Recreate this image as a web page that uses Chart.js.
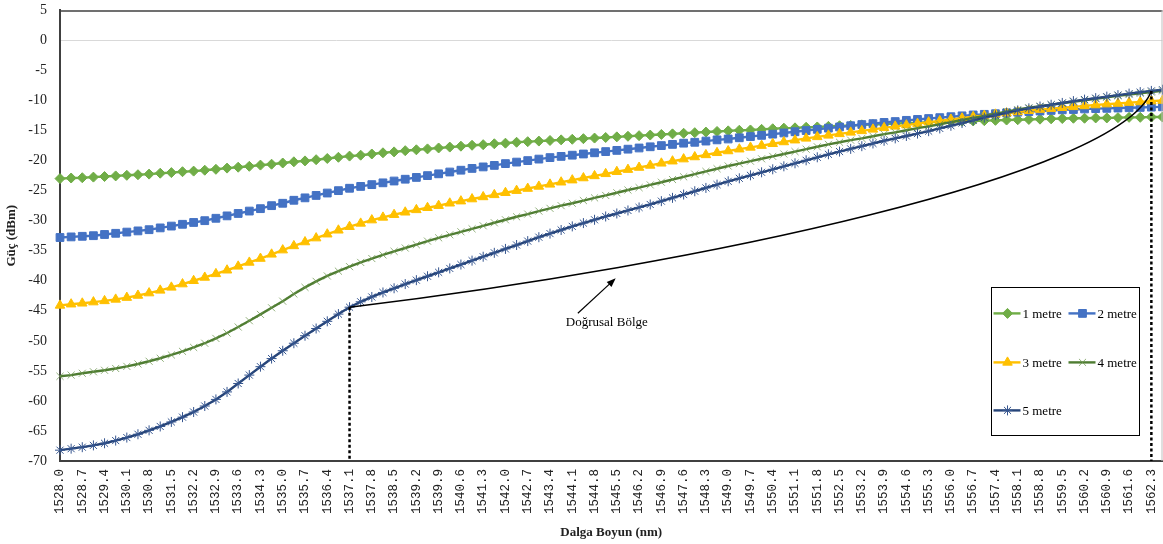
<!DOCTYPE html>
<html>
<head>
<meta charset="utf-8">
<script src="https://cdn.jsdelivr.net/npm/chart.js@4.4.1/dist/chart.umd.min.js"></script>
<style>
  html, body { margin: 0; padding: 0; background: #fff; overflow: hidden; }
  #wrap { position: relative; width: 1163px; height: 544px; overflow: hidden; }
  #myChart { position: absolute; left: 0; top: -11px; }
</style>
</head>
<body>
<div id="wrap"><canvas id="myChart" width="1169" height="555"></canvas></div>
<script>
// wavelength tick labels (every second sample is labelled)
var tickLabels = ['1528.0', '1528.7', '1529.4', '1530.1', '1530.8', '1531.5', '1532.2', '1532.9', '1533.6', '1534.3',
    '1535.0', '1535.7', '1536.4', '1537.1', '1537.8', '1538.5', '1539.2', '1539.9', '1540.6', '1541.3',
    '1542.0', '1542.7', '1543.4', '1544.1', '1544.8', '1545.5', '1546.2', '1546.9', '1547.6', '1548.3',
    '1549.0', '1549.7', '1550.4', '1551.1', '1551.8', '1552.5', '1553.2', '1553.9', '1554.6', '1555.3',
    '1556.0', '1556.7', '1557.4', '1558.1', '1558.8', '1559.5', '1560.2', '1560.9', '1561.6', '1562.3'];

var seriesNames = ['1 metre', '2 metre', '3 metre', '4 metre', '5 metre'];

var metre1 = [-23.0, -22.9, -22.85, -22.75, -22.65, -22.55, -22.45, -22.35, -22.25, -22.1,
    -22.0, -21.85, -21.75, -21.6, -21.45, -21.25, -21.1, -20.95, -20.75, -20.6,
    -20.4, -20.2, -20.05, -19.85, -19.65, -19.45, -19.25, -19.1, -18.9, -18.7,
    -18.55, -18.35, -18.2, -18.05, -17.9, -17.75, -17.6, -17.45, -17.35, -17.2,
    -17.1, -16.95, -16.85, -16.75, -16.65, -16.55, -16.45, -16.35, -16.25, -16.15,
    -16.05, -15.95, -15.85, -15.75, -15.65, -15.55, -15.45, -15.35, -15.25, -15.15,
    -15.05, -14.95, -14.9, -14.8, -14.7, -14.6, -14.55, -14.45, -14.4, -14.3,
    -14.2, -14.15, -14.05, -14.0, -13.9, -13.85, -13.75, -13.7, -13.6, -13.55,
    -13.5, -13.45, -13.4, -13.35, -13.3, -13.25, -13.2, -13.15, -13.1, -13.05,
    -13.0, -12.95, -12.95, -12.9, -12.9, -12.85, -12.8, -12.8, -12.75, -12.75];

var metre2 = [-32.8, -32.7, -32.6, -32.5, -32.3, -32.1, -31.9, -31.7, -31.5, -31.2,
    -30.9, -30.6, -30.3, -30.0, -29.6, -29.2, -28.8, -28.4, -28.0, -27.5,
    -27.1, -26.6, -26.2, -25.8, -25.4, -25.0, -24.6, -24.3, -24.0, -23.7,
    -23.4, -23.1, -22.8, -22.5, -22.2, -21.9, -21.6, -21.3, -21.05, -20.8,
    -20.5, -20.25, -20.0, -19.75, -19.5, -19.3, -19.1, -18.9, -18.7, -18.5,
    -18.3, -18.1, -17.9, -17.7, -17.5, -17.3, -17.1, -16.95, -16.75, -16.55,
    -16.4, -16.2, -16.0, -15.8, -15.6, -15.4, -15.2, -15.0, -14.8, -14.6,
    -14.4, -14.2, -14.0, -13.85, -13.65, -13.5, -13.3, -13.15, -13.0, -12.85,
    -12.7, -12.55, -12.4, -12.3, -12.2, -12.05, -11.95, -11.85, -11.75, -11.65,
    -11.55, -11.5, -11.4, -11.35, -11.3, -11.25, -11.2, -11.15, -11.1, -11.05];

var metre3 = [-44.1, -43.9, -43.75, -43.55, -43.35, -43.1, -42.8, -42.45, -42.05, -41.6,
    -41.1, -40.55, -40.0, -39.45, -38.85, -38.25, -37.6, -36.95, -36.3, -35.6,
    -34.9, -34.2, -33.55, -32.9, -32.25, -31.6, -31.0, -30.45, -29.9, -29.45,
    -29.0, -28.6, -28.2, -27.85, -27.5, -27.1, -26.75, -26.4, -26.05, -25.7,
    -25.35, -25.0, -24.65, -24.3, -23.95, -23.6, -23.25, -22.9, -22.55, -22.2,
    -21.85, -21.5, -21.15, -20.8, -20.45, -20.1, -19.75, -19.4, -19.05, -18.7,
    -18.4, -18.1, -17.8, -17.5, -17.2, -16.9, -16.6, -16.3, -16.05, -15.8,
    -15.55, -15.3, -15.05, -14.8, -14.55, -14.3, -14.1, -13.85, -13.6, -13.4,
    -13.15, -12.95, -12.7, -12.5, -12.3, -12.1, -11.9, -11.7, -11.5, -11.35,
    -11.2, -11.05, -10.9, -10.75, -10.6, -10.5, -10.35, -10.25, -10.1, -10.0];

var metre4 = [-55.9, -55.7, -55.4, -55.15, -54.9, -54.6, -54.25, -53.85, -53.4, -52.9,
    -52.35, -51.75, -51.1, -50.4, -49.6, -48.7, -47.7, -46.65, -45.6, -44.5,
    -43.4, -42.2, -41.1, -40.1, -39.2, -38.4, -37.65, -36.95, -36.3, -35.7,
    -35.1, -34.55, -34.0, -33.4, -32.85, -32.35, -31.85, -31.35, -30.85, -30.35,
    -29.85, -29.35, -28.9, -28.4, -27.95, -27.5, -27.1, -26.65, -26.2, -25.8,
    -25.35, -24.9, -24.5, -24.05, -23.6, -23.15, -22.7, -22.25, -21.8, -21.35,
    -20.9, -20.5, -20.1, -19.7, -19.3, -18.9, -18.5, -18.1, -17.7, -17.3,
    -16.95, -16.6, -16.3, -15.95, -15.6, -15.3, -14.95, -14.6, -14.3, -13.95,
    -13.6, -13.25, -12.9, -12.55, -12.2, -11.85, -11.5, -11.2, -10.95, -10.7,
    -10.45, -10.2, -9.95, -9.7, -9.45, -9.2, -9.0, -8.8, -8.6, -8.4];

var metre5 = [-68.2, -67.95, -67.7, -67.4, -67.05, -66.6, -66.1, -65.55, -64.9, -64.25,
    -63.5, -62.7, -61.85, -60.85, -59.75, -58.5, -57.1, -55.7, -54.3, -52.95,
    -51.65, -50.4, -49.15, -47.95, -46.75, -45.55, -44.4, -43.5, -42.7, -41.95,
    -41.25, -40.55, -39.9, -39.25, -38.6, -37.95, -37.3, -36.65, -36.0, -35.35,
    -34.7, -34.05, -33.4, -32.75, -32.15, -31.55, -30.95, -30.4, -29.85, -29.3,
    -28.8, -28.3, -27.8, -27.3, -26.75, -26.2, -25.65, -25.1, -24.55, -24.0,
    -23.45, -22.95, -22.45, -21.95, -21.45, -20.95, -20.45, -19.95, -19.45, -18.95,
    -18.5, -18.05, -17.6, -17.15, -16.7, -16.3, -15.9, -15.5, -15.1, -14.65,
    -14.2, -13.75, -13.3, -12.85, -12.45, -12.05, -11.65, -11.3, -11.0, -10.7,
    -10.4, -10.1, -9.85, -9.6, -9.35, -9.1, -8.85, -8.6, -8.4, -8.2];

// linear region markers: sample indices (1537.1 and 1562.3) on the 5 metre curve
var regionStart = 26;
var regionEnd = 98;
var regionLabel = 'Doğrusal Bölge';

// every second category carries a label
var categories = [];
tickLabels.forEach(function (t) { categories.push(t); categories.push(''); });

var styles = [
    { line: '#70AD47', fill: '#70AD47', edge: '#70AD47', shape: 'rectRot', r: 5 },
    { line: '#4472C4', fill: '#4472C4', edge: '#4472C4', shape: 'rect', r: 5.5 },
    { line: '#FFC000', fill: '#FFC000', edge: '#FFC000', shape: 'triangle', r: 5.5 },
    { line: '#4F7D32', fill: 'rgba(0,0,0,0)', edge: 'rgba(110,150,80,0.75)', shape: 'crossRot', r: 5 },
    { line: '#264478', fill: 'rgba(0,0,0,0)', edge: '#35558f', shape: 'star', r: 5 }
];
var values = [metre1, metre2, metre3, metre4, metre5];

var datasets = values.map(function (v, i) {
    var s = styles[i];
    return {
        label: seriesNames[i],
        data: v,
        borderColor: s.line,
        backgroundColor: s.fill,
        borderWidth: 2.4,
        pointStyle: s.shape,
        pointRadius: s.r,
        pointBackgroundColor: s.fill,
        pointBorderColor: s.edge,
        pointBorderWidth: 1,
        tension: 0,
        order: 4 - i
    };
});

var serif = 'Liberation Serif';

// box around plot + custom legend + annotations
var frame = {
    id: 'frame',
    afterDatasetsDraw: function (chart) {
        var ctx = chart.ctx, a = chart.chartArea, x = chart.scales.x, y = chart.scales.y;
        ctx.save();
        ctx.lineWidth = 1.5;
        ctx.strokeStyle = '#404040';
        ctx.beginPath(); ctx.moveTo(a.left, a.top + 0.5); ctx.lineTo(a.right, a.top + 0.5); ctx.stroke();
        ctx.strokeStyle = '#bfbfbf';
        ctx.lineWidth = 1;
        ctx.beginPath(); ctx.moveTo(a.right - 0.5, a.top); ctx.lineTo(a.right - 0.5, a.bottom); ctx.stroke();

        // dashed verticals
        var x0 = x.getPixelForValue(regionStart), y0 = y.getPixelForValue(metre5[regionStart]);
        var x1 = x.getPixelForValue(regionEnd), y1 = y.getPixelForValue(metre5[regionEnd]);
        ctx.strokeStyle = '#000';
        ctx.lineWidth = 2.5;
        ctx.setLineDash([3, 2.5]);
        ctx.beginPath(); ctx.moveTo(x0, y0); ctx.lineTo(x0, a.bottom); ctx.stroke();
        ctx.beginPath(); ctx.moveTo(x1, y1); ctx.lineTo(x1, a.bottom); ctx.stroke();
        ctx.setLineDash([]);

        // bracket curve
        ctx.lineWidth = 1.5;
        ctx.beginPath();
        ctx.moveTo(x0, y0);
        ctx.bezierCurveTo(x.getPixelForValue(57.5), y.getPixelForValue(-37.4),
            x.getPixelForValue(95.2), y.getPixelForValue(-22.4), x1, y1);
        ctx.stroke();

        // arrow
        var ax = x.getPixelForValue(46.5), ay = y.getPixelForValue(-45.4);
        var bx = x.getPixelForValue(49.9), by = y.getPixelForValue(-39.6);
        var ang = Math.atan2(by - ay, bx - ax);
        ctx.lineWidth = 1.2;
        ctx.beginPath(); ctx.moveTo(ax, ay); ctx.lineTo(bx - 6 * Math.cos(ang), by - 6 * Math.sin(ang)); ctx.stroke();
        ctx.fillStyle = '#000';
        ctx.beginPath();
        ctx.moveTo(bx, by);
        ctx.lineTo(bx - 9 * Math.cos(ang) + 3.5 * Math.sin(ang), by - 9 * Math.sin(ang) - 3.5 * Math.cos(ang));
        ctx.lineTo(bx - 9 * Math.cos(ang) - 3.5 * Math.sin(ang), by - 9 * Math.sin(ang) + 3.5 * Math.cos(ang));
        ctx.closePath(); ctx.fill();

        ctx.font = '13px "' + serif + '"';
        ctx.textAlign = 'center';
        ctx.textBaseline = 'middle';
        ctx.fillText(regionLabel, x.getPixelForValue(49.1), y.getPixelForValue(-46.9));
        ctx.restore();
    },
    afterDraw: function (chart) {
        var ctx = chart.ctx, a = chart.chartArea;
        var bx = a.right - 172, by = a.top + 277;
        ctx.save();
        ctx.fillStyle = '#fff';
        ctx.fillRect(bx, by, 148, 148);
        ctx.strokeStyle = '#000';
        ctx.lineWidth = 1;
        ctx.strokeRect(Math.round(bx) + 0.5, Math.round(by) + 0.5, 148, 148);
        var slots = [[3, 26], [78, 26], [3, 75], [78, 75], [3, 123]];
        chart.data.datasets.forEach(function (ds, i) {
            var sx = bx + slots[i][0], sy = by + slots[i][1];
            ctx.strokeStyle = ds.borderColor;
            ctx.lineWidth = 2.4;
            ctx.beginPath(); ctx.moveTo(sx, sy); ctx.lineTo(sx + 27, sy); ctx.stroke();
            ctx.fillStyle = ds.pointBackgroundColor;
            ctx.strokeStyle = ds.pointBorderColor;
            ctx.lineWidth = 1;
            if (Chart.helpers && Chart.helpers.drawPoint) {
                Chart.helpers.drawPoint(ctx, { pointStyle: ds.pointStyle, radius: ds.pointRadius, rotation: 0, borderWidth: 1 }, sx + 14, sy);
            }
            ctx.fillStyle = '#000';
            ctx.font = '13px "' + serif + '"';
            ctx.textAlign = 'left';
            ctx.textBaseline = 'middle';
            ctx.fillText(ds.label, sx + 29, sy + 1);
        });
        ctx.restore();
    }
};

var ctx = document.getElementById('myChart').getContext('2d');
var chart = new Chart(ctx, {
    type: 'line',
    data: { labels: categories, datasets: datasets },
    options: {
        responsive: false,
        animation: false,
        devicePixelRatio: 1,
        layout: { padding: { top: 10, right: 1, left: 0, bottom: 0 } },
        plugins: { legend: { display: false }, tooltip: { enabled: false } },
        scales: {
            x: {
                offset: false,
                grid: { display: false, drawTicks: false },
                border: { display: true, color: '#404040', width: 2 },
                ticks: {
                    autoSkip: false, maxRotation: 90, minRotation: 90, padding: 8,
                    color: '#222', font: { family: 'Liberation Mono', size: 12.5 }
                },
                title: {
                    display: true, text: 'Dalga Boyun (nm)', color: '#222',
                    font: { family: serif, size: 13, weight: 'bold' }, padding: { top: 0, bottom: 4 }
                },
                afterFit: function (s) { s.height = 83; s.paddingLeft = 0; s.paddingRight = 0; }
            },
            y: {
                min: -70,
                max: 5,
                ticks: { stepSize: 5, padding: 13, color: '#222', font: { family: serif, size: 14 } },
                grid: {
                    drawTicks: false,
                    color: function (c) { return c.tick && c.tick.value === 0 ? '#d9d9d9' : 'rgba(0,0,0,0)'; }
                },
                border: { color: '#404040', width: 2 },
                title: {
                    display: true, text: 'Güç (dBm)', color: '#222',
                    font: { family: serif, size: 13, weight: 'bold' }, padding: { top: 4, bottom: 0 }
                },
                afterFit: function (s) { s.width = 60; }
            }
        }
    },
    plugins: [frame]
});
</script>
</body>
</html>
